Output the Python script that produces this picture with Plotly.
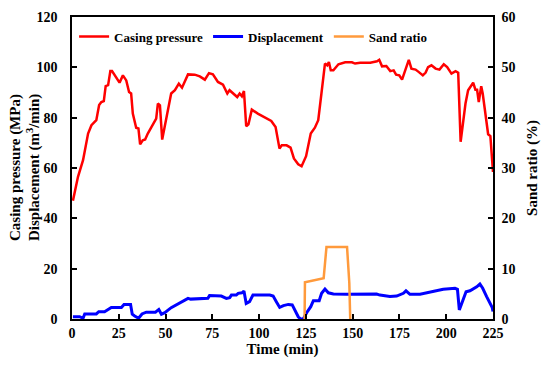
import plotly.graph_objects as go

# Casing pressure (MPa)
cp_t = [0.5, 3.2, 5.9, 8.6, 10.4, 13.0, 14.5, 15.7, 17.0, 18.0, 19.3, 20.5, 21.4, 22.9, 25.4, 27.2,
        29.0, 30.5, 31.6, 32.5, 34.3, 35.5, 36.4, 37.8, 39.1, 40.5, 42.7, 45.0, 45.9, 47.0, 48.2,
        49.4, 51.1, 53.0, 55.0, 57.1, 58.8, 60.2, 62.0, 65.6, 68.3, 71.0, 73.2, 75.3, 78.0, 80.7,
        83.0, 84.2, 86.9, 88.3, 89.6, 90.8, 91.9, 93.1, 94.3, 96.1, 99.3, 103.8, 106.5, 108.8,
        110.9, 112.1, 114.7, 116.8, 118.6, 120.9, 122.7, 125.1, 127.6, 129.8, 131.6, 133.4, 135.2,
        136.4, 137.3, 138.3, 139.7, 142.4, 146.0, 149.6, 151.3, 154.0, 159.4, 163.0, 164.2, 165.7,
        168.0, 170.1, 171.9, 173.2, 174.9, 176.4, 178.5, 180.0, 181.4, 183.6, 185.4, 187.5, 189.0,
        190.3, 192.1, 194.3, 196.4, 198.7, 200.5, 202.8, 205.0, 206.4, 207.7, 208.9, 210.3, 211.7,
        213.0, 214.4, 215.6, 216.5, 217.4, 218.7, 219.5, 221.0, 222.4, 223.6, 225.0]
cp_v = [47.0, 56.5, 63.1, 73.7, 77.0, 79.0, 85.0, 86.2, 86.6, 92.5, 92.9, 98.5, 98.5, 96.8, 93.9, 96.8,
        94.8, 90.2, 89.6, 81.6, 76.0, 75.7, 69.4, 71.0, 71.3, 73.7, 76.6, 79.6, 85.6, 84.9, 71.3,
        75.7, 82.9, 89.6, 90.9, 93.5, 91.9, 94.2, 97.2, 97.1, 96.4, 95.1, 97.7, 97.2, 94.2, 93.1,
        89.6, 90.9, 89.3, 88.2, 89.6, 88.5, 90.6, 76.6, 77.4, 83.2, 81.6, 79.6, 78.7, 76.3,
        67.7, 69.0, 69.0, 68.1, 63.8, 61.5, 60.7, 64.7, 73.7, 76.0, 79.0, 90.2, 101.5,
        100.8, 102.1, 98.8, 98.8, 101.2, 102.0, 102.0, 101.5, 101.8, 101.8, 102.4, 103.0, 100.4,
        100.5, 98.5, 98.8, 97.1, 96.8, 95.1, 100.1, 103.0, 99.5, 99.1, 98.1, 96.8, 97.9,
        100.1, 100.8, 99.5, 99.1, 101.2, 100.1, 97.5, 98.5, 97.9, 70.4, 78.3, 85.6, 90.9,
        92.2, 93.9, 91.1, 91.1, 86.2, 92.5, 89.6, 80.3, 73.4, 72.7, 58.4]

# Displacement (m3/min)
dp_t = [0.5, 4.1, 5.9, 6.8, 13.0, 14.3, 17.4, 18.9, 21.0, 26.4, 27.8, 31.3, 32.2, 33.5, 35.6, 37.4,
        39.7, 44.6, 46.4, 47.8, 49.6, 53.0, 55.7, 59.3, 62.0, 63.4, 68.3, 72.6, 73.5, 79.8, 82.5,
        84.3, 85.2, 87.8, 88.8, 90.8, 91.9, 93.1, 94.9, 96.7, 105.7, 107.5, 109.2, 111.0, 113.0,
        115.6, 117.7, 119.2, 120.9, 122.2, 123.6, 125.4, 127.6, 129.0, 132.1, 133.4, 135.2, 137.0,
        139.7, 146.8, 155.7, 162.8, 164.6, 169.9, 173.5, 177.1, 178.5, 180.6, 186.0, 189.5, 193.0,
        198.4, 204.7, 206.0, 207.0, 208.8, 210.6, 212.7, 215.4, 216.3, 218.0, 219.5, 221.6, 223.4,
        224.6, 225.0]
dp_v = [0.9, 0.9, 0.3, 2.0, 2.0, 2.9, 2.9, 3.6, 4.6, 4.6, 5.8, 5.8, 1.9, 1.2, 0.3, 2.0,
        2.7, 2.7, 3.8, 1.9, 2.5, 4.5, 5.6, 6.9, 8.2, 7.9, 8.2, 8.2, 9.3, 9.1, 8.2,
        8.5, 9.5, 9.5, 10.2, 10.4, 11.1, 6.2, 6.9, 9.5, 9.5, 9.1, 6.9, 4.6, 5.3,
        5.8, 5.6, 3.6, 0.9, 0.0, 0.0, 2.5, 4.9, 7.3, 7.3, 10.2, 11.9, 10.4,
        9.9, 9.8, 9.8, 9.9, 9.5, 8.9, 9.1, 10.2, 11.2, 9.8, 9.8, 10.4, 11.1,
        11.8, 12.2, 11.8, 3.6, 6.9, 10.8, 11.2, 12.2, 12.8, 13.9, 12.2, 8.9, 6.5,
        4.5, 3.0]

# Sand ratio (%)
sr_t = [124.3, 124.5, 134.5, 136.0, 147.0, 148.2, 148.7]
sr_v = [0.0, 7.3, 8.1, 14.3, 14.3, 7.2, 0.0]

FONT = "Liberation Serif"

fig = go.Figure()
fig.add_trace(go.Scatter(x=cp_t, y=cp_v, name="Casing pressure", mode="lines",
                         line=dict(color="#FF0000", width=2.5)))
fig.add_trace(go.Scatter(x=dp_t, y=dp_v, name="Displacement", mode="lines",
                         line=dict(color="#0000FF", width=3)))
fig.add_trace(go.Scatter(x=sr_t, y=sr_v, name="Sand ratio", mode="lines", yaxis="y2",
                         line=dict(color="#FF9A3C", width=2.5)))

tickfont = dict(family=FONT, size=14, color="black", weight="bold")
titlefont = dict(family=FONT, size=15, color="black", weight="bold")

fig.update_layout(
    width=550, height=366,
    margin=dict(l=72, r=57, t=17, b=47),
    paper_bgcolor="white", plot_bgcolor="white",
    showlegend=True,
    legend=dict(orientation="h", x=0.005, y=0.985, xanchor="left", yanchor="top",
                bgcolor="rgba(0,0,0,0)", font=dict(family=FONT, size=13, color="black", weight="bold"),
                itemwidth=30, tracegroupgap=0),
    xaxis=dict(range=[0, 225], tickvals=list(range(0, 226, 25)), ticks="inside", ticklen=5,
               tickwidth=1.5, tickcolor="black", showline=True, linecolor="black", linewidth=1.5,
               mirror=True, showgrid=False, zeroline=False, tickfont=tickfont, automargin=False,
               title=dict(text="Time (min)", font=titlefont, standoff=2)),
    yaxis=dict(range=[0, 120], tickvals=list(range(0, 121, 20)), ticks="inside", ticklen=5,
               tickwidth=1.5, tickcolor="black", showline=True, linecolor="black", linewidth=1.5,
               showgrid=False, zeroline=False, tickfont=tickfont, ticklabelstandoff=10,
               automargin=False),
    yaxis2=dict(range=[0, 60], tickvals=list(range(0, 61, 10)), ticks="inside", ticklen=5,
                tickwidth=1.5, tickcolor="black", showline=True, linecolor="black", linewidth=1.5,
                overlaying="y", side="right", showgrid=False, zeroline=False, tickfont=tickfont,
                ticklabelstandoff=4, automargin=False,
                title=dict(text="Sand ratio (%)", font=titlefont, standoff=12)),
    annotations=[
        dict(text="Casing pressure (MPa)", xref="paper", yref="paper", x=-57 / 421, y=0.5,
             xanchor="center", yanchor="middle", textangle=-90, showarrow=False, font=titlefont),
        dict(text="Displacement (m<sup>3</sup>/min)", xref="paper", yref="paper", x=-39 / 421, y=0.5,
             xanchor="center", yanchor="middle", textangle=-90, showarrow=False, font=titlefont),
    ],
)

fig.write_html("out.html", config={"displayModeBar": False},
               post_script="document.body.style.margin='0px';")
